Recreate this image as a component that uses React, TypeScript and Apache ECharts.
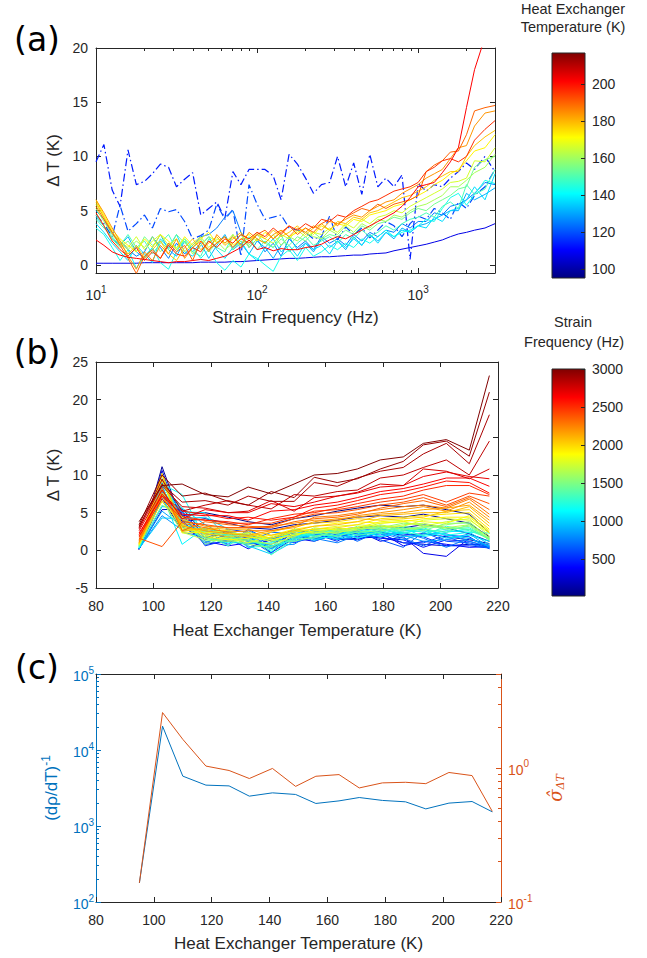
import React, { useEffect, useRef } from 'react';
import * as echarts from 'echarts';

// ---------------- data ----------------
const TEMPERATURES = [95, 103, 110, 118, 126, 133, 141, 149, 156, 164, 171, 179, 187, 194, 202, 210, 217];
const FREQUENCIES = [
  10, 11.2, 12.6, 14.1, 15.8, 17.8, 20, 22.4, 25.1, 28.2,
  31.6, 35.5, 39.8, 44.7, 50.1, 56.2, 63.1, 70.8, 79.4, 89.1,
  100, 112, 126, 141, 158, 178, 200, 224, 251, 282,
  316, 355, 398, 447, 501, 562, 631, 708, 794, 891,
  1000, 1122, 1259, 1413, 1585, 1778, 1995, 2239, 2600, 3000,
];
const DT_095 = [0.15,0.15,0.15,0.15,0.15,0.15,0.2,0.2,0.2,0.2, 0.2,0.2,0.2,0.25,0.25,0.25,0.25,0.3,0.3,0.35, 0.4,0.45,0.5,0.55,0.6,0.6,0.65,0.7,0.75,0.75, 0.8,0.85,0.9,0.9,1.0,1.05,1.1,1.3,1.45,1.6, 1.75,1.9,2.1,2.3,2.6,2.85,3.0,3.2,3.4,3.8];
const DT_103 = [9.5,11.1,6.9,5.4,10.6,7.4,7.7,8.4,9.3,9.0, 7.2,7.9,8.5,4.6,5.2,5.8,4.3,8.6,7.4,8.8, 8.8,8.8,8.2,6.0,10.2,9.3,8.0,6.6,7.4,7.6, 10.0,7.2,9.4,6.5,10.2,7.2,8.0,7.2,8.3,0.5, 7.5,6.8,7.4,7.2,8.0,8.6,9.4,8.8,10.0,8.6];
const DT_110 = [4.6,3.8,2.6,5.5,3.1,3.8,4.6,3.4,5.2,4.9, 5.1,4.0,2.4,2.7,3.2,5.6,4.2,5.1,0.8,7.4, 5.6,4.2,4.4,4.6,3.4,3.2,3.0,2.4,2.6,4.5, 2.3,3.5,2.8,3.4,2.5,3.2,4.0,3.6,2.6,3.8, 4.5,4.2,5.2,4.8,4.2,5.8,5.2,6.4,7.2,8.8];
const DT_118 = [5.0,4.2,2.8,2.2,1.4,0.8,1.2,2.6,1.6,0.6, 2.0,1.0,1.8,2.6,2.8,3.4,4.4,5.0,3.0,1.6, 2.4,1.2,2.0,0.8,2.4,1.6,2.2,1.4,2.6,2.0, 2.4,1.8,2.8,2.2,3.0,2.6,3.2,3.0,3.8,3.4, 4.0,4.0,4.8,4.6,5.4,5.6,6.0,6.6,7.6,7.4];
const DT_126 = [4.4,3.6,2.4,1.8,2.6,1.2,0.6,1.6,2.8,1.4, 0.8,2.2,1.2,2.0,0.6,1.8,2.8,1.4,2.0,1.0, 2.2,1.6,0.6,1.8,2.6,1.4,2.0,1.2,2.4,1.6, 2.2,1.4,2.6,1.8,2.8,2.2,3.0,2.4,3.4,3.0, 3.6,3.8,4.2,4.6,5.0,5.0,6.6,6.0,6.5,7.1];
const DT_133 = [3.8,3.0,2.0,1.2,0.4,1.8,1.0,0.2,2.4,1.6, 2.8,1.2,0.8,1.8,2.6,1.4,0.6,1.6,2.2,1.0, 0.4,1.6,2.4,1.2,1.8,0.8,2.0,1.4,1.8,1.0, 2.2,1.6,2.4,1.8,2.8,2.0,3.0,2.6,3.2,3.0, 3.6,3.4,4.4,4.0,5.0,5.2,6.0,7.2,6.0,8.4];
const DT_141 = [3.4,2.8,1.6,0.4,1.4,-0.3,0.8,1.6,0.2,-0.4, 1.2,2.4,1.6,0.6,1.4,0.2,-0.5,0.4,-0.2,1.0, 0.6,0.0,-0.6,0.8,1.4,0.4,1.6,0.8,1.2,1.8, 1.4,2.0,1.6,2.4,2.0,2.6,3.2,2.6,3.0,3.2, 3.6,4.2,4.0,5.2,6.2,6.6,5.5,6.5,7.8,7.5];
const DT_149 = [4.2,3.4,2.6,1.8,2.8,1.6,2.2,1.0,2.0,2.8, 1.4,2.2,1.2,0.8,2.4,1.6,1.2,2.8,1.8,2.6, 1.4,2.2,1.6,2.8,1.2,2.0,2.6,1.8,2.2,2.6, 2.0,2.8,2.4,3.2,2.6,3.0,3.6,3.2,3.8,4.2, 4.4,4.8,4.4,5.4,5.8,5.2,7.4,6.5,7.0,8.8];
const DT_156 = [4.6,3.6,2.4,1.6,2.2,1.2,2.6,1.8,2.2,1.4, 2.8,2.0,1.6,2.4,1.2,2.0,2.6,1.4,2.2,1.8, 2.8,2.0,1.6,2.4,1.8,2.6,2.2,3.0,2.4,2.8, 2.6,3.2,2.8,3.6,3.2,3.8,4.0,4.4,4.2,4.8, 5.2,5.0,5.6,6.0,6.4,7.0,7.2,9.0,9.7,10.0];
const DT_164 = [5.2,4.0,2.8,2.0,1.4,2.2,1.6,2.6,1.2,2.0, 1.6,2.4,1.0,1.8,2.6,2.2,1.4,2.0,2.8,1.6, 2.4,2.0,2.8,1.8,2.6,2.2,3.0,2.6,2.4,3.2, 2.8,3.6,3.0,3.8,3.4,4.2,4.0,4.6,4.4,5.0, 5.4,5.6,6.0,6.4,7.2,7.2,7.8,8.5,9.0,10.2];
const DT_171 = [5.6,4.4,3.0,2.2,1.6,2.6,1.4,2.2,2.8,1.8, 2.4,1.2,2.0,2.6,1.6,2.4,2.0,2.8,1.6,2.2, 3.0,2.4,2.0,2.8,2.4,3.2,2.6,3.0,2.8,3.4, 3.0,3.8,3.4,4.2,3.8,4.4,4.6,5.0,4.8,5.4, 5.8,6.2,6.6,7.0,7.6,7.7,8.0,9.6,9.5,10.8];
const DT_179 = [6.0,4.6,3.2,2.4,1.8,1.2,2.4,1.6,2.8,2.2, 1.4,2.6,1.8,2.4,3.0,2.0,2.6,1.8,2.4,2.8, 2.2,3.0,2.4,3.2,2.6,3.0,3.4,2.8,3.6,3.2, 3.8,3.6,4.2,4.0,4.6,4.8,5.0,5.4,5.6,6.0, 6.4,6.8,7.4,7.8,8.4,8.8,9.6,10.5,10.8,12.0];
const DT_187 = [5.8,4.4,3.0,2.0,1.0,1.8,0.6,1.4,2.2,1.0, 0.4,1.6,2.4,1.4,2.0,2.6,1.8,2.4,3.0,2.2, 2.8,2.4,3.2,2.6,3.0,3.6,2.8,3.4,3.8,3.2, 4.0,3.8,4.4,4.2,4.8,5.0,5.4,5.8,6.2,6.4, 6.8,7.2,7.8,8.2,8.6,8.6,10.0,11.0,11.8,12.4];
const DT_194 = [6.0,4.8,3.4,2.2,0.8,-0.4,1.2,0.4,1.8,1.0, 2.4,0.6,1.6,2.2,1.2,2.8,2.0,2.6,1.8,3.0, 2.4,2.0,2.8,3.2,2.6,3.4,3.0,3.6,3.2,4.0, 3.8,4.2,4.6,4.4,5.0,5.4,5.8,6.0,6.6,7.0, 7.4,8.0,8.4,8.8,9.8,10.8,11.0,12.8,14.0,14.2];
const DT_202 = [5.4,4.2,3.0,1.8,0.6,-0.8,0.8,1.4,0.6,2.0, 1.2,1.8,0.4,2.2,1.4,2.0,2.6,1.6,2.4,2.0, 2.8,3.2,2.4,3.0,3.6,2.8,3.4,3.0,3.8,4.2, 3.6,4.4,4.8,5.2,5.0,5.6,5.2,5.6,5.8,6.0, 6.4,8.6,9.2,9.6,10.4,10.5,12.0,14.2,14.5,14.7];
const DT_210 = [4.8,3.6,2.2,1.4,0.8,1.6,0.4,1.2,0.6,1.8, 1.0,0.8,1.6,1.2,2.2,1.6,2.4,2.0,2.8,2.4, 3.0,2.6,3.4,2.8,3.6,3.2,3.8,3.4,4.2,4.0, 4.6,4.4,5.0,5.4,5.8,6.0,6.4,6.8,7.0,7.2, 7.6,8.6,9.0,9.6,9.8,9.5,10.0,11.5,12.5,13.3];
const DT_217 = [2.3,1.8,1.2,0.9,0.7,0.6,0.5,0.4,0.3,0.2, 0.3,0.3,0.4,0.5,0.4,0.6,0.8,1.2,1.6,2.3, 1.4,1.6,1.3,1.5,1.4,1.4,1.6,1.7,1.9,2.3, 2.6,2.4,2.8,3.2,3.6,4.0,4.4,4.8,5.4,6.2, 7.2,7.4,7.6,8.5,9.5,10.8,14.5,18.0,21.0,23.2];
const DELTA_T = [DT_095, DT_103, DT_110, DT_118, DT_126, DT_133, DT_141, DT_149, DT_156, DT_164, DT_171, DT_179, DT_187, DT_194, DT_202, DT_210, DT_217];
const DASH_DOT_TEMPS = [103, 110];

const INV_DRHO_DT = [178, 20600, 4530, 3450, 3370, 2470, 2730, 2600, 1980, 2140, 2370, 2170, 2080, 1680, 2000, 2100, 1535];
const SIGMA_DT = [0.139, 2.58, 1.63, 1.03, 0.955, 0.832, 0.989, 0.727, 0.865, 0.89, 0.708, 0.772, 0.78, 0.762, 0.923, 0.875, 0.473];

const Y_TICKS_A = [0, 5, 10, 15, 20];
const CB_TEMP_TICKS = [100, 120, 140, 160, 180, 200];
const CB_FREQ_TICKS = [500, 1000, 1500, 2000, 2500, 3000];

// ---------------- style ----------------
const AX = '#262626';
const FONT = '"Liberation Sans", Arial, Helvetica, sans-serif';
const BLUE = '#0072BD';
const ORANGE = '#D95319';
const JET = ['#000080', '#0000ff', '#0080ff', '#00ffff', '#80ff80', '#ffff00', '#ff8000', '#ff0000', '#800000'];

const G_A = { left: 96, top: 48, width: 399, height: 225 };
const CB_A = { left: 552, top: 53, width: 33, height: 225 };
const G_B = { left: 96, top: 362, width: 402, height: 226 };
const CB_B = { left: 552, top: 369, width: 33, height: 227 };
const G_C = { left: 96, top: 674, width: 405, height: 228 };

const jetColor = (t: number) => echarts.color.lerp(Math.min(1, Math.max(0, t)), JET) as string;

const MINOR_MULTS = [2, 3, 4, 5, 6, 7, 8, 9];
function minorLogTicks(lo: number, hi: number) {
  const out: number[] = [];
  for (let k = Math.floor(Math.log10(lo)); k <= Math.ceil(Math.log10(hi)); k++) {
    for (const m of MINOR_MULTS) {
      const v = m * Math.pow(10, k);
      if (v > lo * 1.0001 && v < hi * 0.9999) out.push(Math.log10(v));
    }
  }
  return out;
}

const supFmt = (v: number) => {
  const l = Math.log10(v);
  const e = Math.round(l);
  if (Math.abs(l - e) > 1e-6) return '';
  return `{b|10}{s|${e}}`;
};
const supRich = (color: string) => ({
  b: { fontSize: 14, fontFamily: FONT, color, lineHeight: 18, verticalAlign: 'bottom' },
  s: { fontSize: 10, fontFamily: FONT, color, lineHeight: 8, verticalAlign: 'top' },
});
const plainFmt = (v: number) => String(v);

const aLine = (color: string, show = true) => ({ show, onZero: false, lineStyle: { color, width: 1 } });
const aTick = (color: string, length = 5, customValues?: number[]) => {
  const t: any = { show: true, inside: true, length, lineStyle: { color, width: 1 } };
  if (customValues) t.customValues = customValues;
  return t;
};
const aLabel = (color: string, margin: number, extra: any = {}) => ({ show: true, color, fontSize: 14, fontFamily: FONT, margin, ...extra });
const noLabel = { show: false };
const noSplit = { show: false };
const nameStyle = (color: string, extra: any = {}) => ({ color, fontSize: 17, fontFamily: FONT, ...extra });

export default function App() {
  const ref = useRef<HTMLDivElement>(null);

  useEffect(() => {
    if (!ref.current) return;
    const chart = echarts.init(ref.current, undefined, { renderer: 'svg' });

    const fMin = FREQUENCIES[0];
    const fMax = FREQUENCIES[FREQUENCIES.length - 1];
    const tMin = TEMPERATURES[0];
    const tMax = TEMPERATURES[TEMPERATURES.length - 1];

    const seriesA = TEMPERATURES.map((T, i) => ({
      type: 'line',
      name: `${T} K`,
      xAxisIndex: 0,
      yAxisIndex: 0,
      data: FREQUENCIES.map((f, j) => [f, DELTA_T[i][j]]),
      symbol: 'none',
      silent: true,
      clip: true,
      z: 2,
      lineStyle: {
        color: jetColor(0.1 + 0.775 * (T - tMin) / (tMax - tMin)),
        width: DASH_DOT_TEMPS.includes(T) ? 1.2 : 1,
        type: DASH_DOT_TEMPS.includes(T) ? [8, 3, 1.5, 3] : 'solid',
      },
    }));

    const seriesB = FREQUENCIES.map((f, j) => ({
      type: 'line',
      name: `${f} Hz`,
      xAxisIndex: 5,
      yAxisIndex: 3,
      data: TEMPERATURES.map((T, i) => [T, DELTA_T[i][j]]),
      symbol: 'none',
      silent: true,
      z: 2,
      lineStyle: { color: jetColor(j / (FREQUENCIES.length - 1)), width: 1 },
    }));

    const seriesC = [
      {
        type: 'line', name: 'inv', xAxisIndex: 8, yAxisIndex: 6,
        data: TEMPERATURES.map((T, i) => [T, INV_DRHO_DT[i]]),
        symbol: 'none', silent: true, z: 2,
        lineStyle: { color: BLUE, width: 1 },
      },
      {
        type: 'line', name: 'sigma', xAxisIndex: 8, yAxisIndex: 8,
        data: TEMPERATURES.map((T, i) => [T, SIGMA_DT[i]]),
        symbol: 'none', silent: true, z: 2,
        lineStyle: { color: ORANGE, width: 1 },
      },
    ];

    const jetGradient = () =>
      new echarts.graphic.LinearGradient(0, 1, 0, 0, JET.map((c, i) => ({ offset: i / (JET.length - 1), color: c })));

    const minorA = minorLogTicks(fMin, fMax);
    const minorCL = minorLogTicks(100, 100000);
    const minorCR = minorLogTicks(0.1, 5);

    const option: any = {
      animation: false,
      backgroundColor: '#ffffff',
      grid: [G_A, CB_A, G_B, CB_B, G_C].map((g) => ({ ...g, containLabel: false })),
      xAxis: [
        // 0: (a) bottom log
        {
          gridIndex: 0, type: 'log', logBase: 10, min: fMin, max: fMax, position: 'bottom',
          axisLine: aLine(AX), axisTick: aTick(AX),
          axisLabel: aLabel(AX, 11, { formatter: supFmt, rich: supRich(AX) }),
          splitLine: noSplit,
          name: 'Strain Frequency (Hz)', nameLocation: 'middle', nameGap: 36, nameTextStyle: nameStyle(AX),
        },
        // 1: (a) top log
        { gridIndex: 0, type: 'log', logBase: 10, min: fMin, max: fMax, position: 'top', axisLine: aLine(AX), axisTick: aTick(AX), axisLabel: noLabel, splitLine: noSplit },
        // 2: (a) bottom minor ticks (log10 space)
        { gridIndex: 0, type: 'value', min: Math.log10(fMin), max: Math.log10(fMax), position: 'bottom', axisLine: aLine(AX, false), axisTick: aTick(AX, 3, minorA), axisLabel: noLabel, splitLine: noSplit },
        // 3: (a) top minor ticks
        { gridIndex: 0, type: 'value', min: Math.log10(fMin), max: Math.log10(fMax), position: 'top', axisLine: aLine(AX, false), axisTick: aTick(AX, 3, minorA), axisLabel: noLabel, splitLine: noSplit },
        // 4: colorbar a (hidden)
        { gridIndex: 1, type: 'value', min: 0, max: 1, show: false },
        // 5: (b) bottom
        {
          gridIndex: 2, type: 'value', min: 80, max: 220, interval: 20, position: 'bottom',
          axisLine: aLine(AX), axisTick: aTick(AX), axisLabel: aLabel(AX, 11), splitLine: noSplit,
          name: 'Heat Exchanger Temperature (K)', nameLocation: 'middle', nameGap: 34, nameTextStyle: nameStyle(AX),
        },
        // 6: (b) top
        { gridIndex: 2, type: 'value', min: 80, max: 220, interval: 20, position: 'top', axisLine: aLine(AX), axisTick: aTick(AX), axisLabel: noLabel, splitLine: noSplit },
        // 7: colorbar b (hidden)
        { gridIndex: 3, type: 'value', min: 0, max: 1, show: false },
        // 8: (c) bottom
        {
          gridIndex: 4, type: 'value', min: 80, max: 220, interval: 20, position: 'bottom',
          axisLine: aLine(AX), axisTick: aTick(AX), axisLabel: aLabel(AX, 11), splitLine: noSplit,
          name: 'Heat Exchanger Temperature (K)', nameLocation: 'middle', nameGap: 33, nameTextStyle: nameStyle(AX),
        },
        // 9: (c) top
        { gridIndex: 4, type: 'value', min: 80, max: 220, interval: 20, position: 'top', axisLine: aLine(AX), axisTick: aTick(AX), axisLabel: noLabel, splitLine: noSplit },
      ],
      yAxis: [
        // 0: (a) left
        {
          gridIndex: 0, type: 'value', min: -0.75, max: 20, position: 'left',
          axisLine: aLine(AX), axisTick: aTick(AX, 5, Y_TICKS_A),
          axisLabel: aLabel(AX, 8, { customValues: Y_TICKS_A }), splitLine: noSplit,
          name: 'Δ T (K)', nameLocation: 'middle', nameRotate: 90, nameGap: 30, nameTextStyle: nameStyle(AX),
        },
        // 1: (a) right
        { gridIndex: 0, type: 'value', min: -0.75, max: 20, position: 'right', axisLine: aLine(AX), axisTick: aTick(AX, 5, Y_TICKS_A), axisLabel: noLabel, splitLine: noSplit },
        // 2: colorbar a
        {
          gridIndex: 1, type: 'value', min: tMin, max: tMax, position: 'right', z: 5,
          axisLine: aLine(AX, false), axisTick: aTick(AX, 4, CB_TEMP_TICKS),
          axisLabel: aLabel(AX, 7, { customValues: CB_TEMP_TICKS, formatter: plainFmt }), splitLine: noSplit,
        },
        // 3: (b) left
        {
          gridIndex: 2, type: 'value', min: -5, max: 25, interval: 5, position: 'left',
          axisLine: aLine(AX), axisTick: aTick(AX), axisLabel: aLabel(AX, 8), splitLine: noSplit,
          name: 'Δ T (K)', nameLocation: 'middle', nameRotate: 90, nameGap: 31, nameTextStyle: nameStyle(AX),
        },
        // 4: (b) right
        { gridIndex: 2, type: 'value', min: -5, max: 25, interval: 5, position: 'right', axisLine: aLine(AX), axisTick: aTick(AX), axisLabel: noLabel, splitLine: noSplit },
        // 5: colorbar b
        {
          gridIndex: 3, type: 'value', min: fMin, max: fMax, position: 'right', z: 5,
          axisLine: aLine(AX, false), axisTick: aTick(AX, 4, CB_FREQ_TICKS),
          axisLabel: aLabel(AX, 7, { customValues: CB_FREQ_TICKS, formatter: plainFmt }), splitLine: noSplit,
        },
        // 6: (c) left log
        {
          gridIndex: 4, type: 'log', logBase: 10, min: 100, max: 100000, position: 'left',
          axisLine: aLine(BLUE), axisTick: aTick(BLUE),
          axisLabel: aLabel(BLUE, 2, { formatter: supFmt, rich: supRich(BLUE) }), splitLine: noSplit,
          name: '{b|(dρ/dT)}{s|-1}', nameLocation: 'middle', nameRotate: 90, nameGap: 36,
          nameTextStyle: nameStyle(BLUE, {
            rich: {
              b: { fontSize: 17, fontFamily: FONT, color: BLUE, lineHeight: 20, verticalAlign: 'bottom' },
              s: { fontSize: 12, fontFamily: FONT, color: BLUE, lineHeight: 10, verticalAlign: 'top' },
            },
          }),
        },
        // 7: (c) left minor ticks
        { gridIndex: 4, type: 'value', min: 2, max: 5, position: 'left', axisLine: aLine(BLUE, false), axisTick: aTick(BLUE, 3, minorCL), axisLabel: noLabel, splitLine: noSplit },
        // 8: (c) right log
        {
          gridIndex: 4, type: 'log', logBase: 10, min: 0.1, max: 5, position: 'right',
          axisLine: aLine(ORANGE), axisTick: aTick(ORANGE),
          axisLabel: aLabel(ORANGE, 7, { formatter: supFmt, rich: supRich(ORANGE) }), splitLine: noSplit,
          name: '{sg|σ̂}{sub|ΔT}', nameLocation: 'middle', nameRotate: 90, nameGap: 45,
          nameTextStyle: nameStyle(ORANGE, {
            rich: {
              sg: { fontSize: 18, fontFamily: '"DejaVu Serif", serif', fontStyle: 'italic', color: ORANGE, lineHeight: 20, verticalAlign: 'top' },
              sub: { fontSize: 11, fontFamily: '"DejaVu Serif", serif', fontStyle: 'italic', color: ORANGE, lineHeight: 11, verticalAlign: 'bottom' },
            },
          }),
        },
        // 9: (c) right minor ticks
        { gridIndex: 4, type: 'value', min: -1, max: Math.log10(5), position: 'right', axisLine: aLine(ORANGE, false), axisTick: aTick(ORANGE, 3, minorCR), axisLabel: noLabel, splitLine: noSplit },
      ],
      series: [...seriesA, ...seriesB, ...seriesC],
      graphic: {
        elements: [
          { type: 'rect', z: 1, shape: { x: CB_A.left, y: CB_A.top, width: CB_A.width, height: CB_A.height }, style: { fill: jetGradient(), stroke: AX, lineWidth: 1 } },
          { type: 'rect', z: 1, shape: { x: CB_B.left, y: CB_B.top, width: CB_B.width, height: CB_B.height }, style: { fill: jetGradient(), stroke: AX, lineWidth: 1 } },
          { type: 'text', x: 37, y: 39, style: { text: '(a)', fontSize: 33, fontFamily: '"DejaVu Sans", sans-serif', fill: '#000', align: 'center', verticalAlign: 'middle' } },
          { type: 'text', x: 37, y: 352, style: { text: '(b)', fontSize: 33, fontFamily: '"DejaVu Sans", sans-serif', fill: '#000', align: 'center', verticalAlign: 'middle' } },
          { type: 'text', x: 37, y: 667, style: { text: '(c)', fontSize: 33, fontFamily: '"DejaVu Sans", sans-serif', fill: '#000', align: 'center', verticalAlign: 'middle' } },
          { type: 'text', x: 573, y: 9, style: { text: 'Heat Exchanger', fontSize: 14.5, fontFamily: FONT, fill: AX, align: 'center', verticalAlign: 'middle' } },
          { type: 'text', x: 573, y: 27, style: { text: 'Temperature (K)', fontSize: 14.5, fontFamily: FONT, fill: AX, align: 'center', verticalAlign: 'middle' } },
          { type: 'text', x: 573, y: 322, style: { text: 'Strain', fontSize: 14.5, fontFamily: FONT, fill: AX, align: 'center', verticalAlign: 'middle' } },
          { type: 'text', x: 574, y: 342, style: { text: 'Frequency (Hz)', fontSize: 14.5, fontFamily: FONT, fill: AX, align: 'center', verticalAlign: 'middle' } },
        ],
      },
    };

    chart.setOption(option);
    return () => chart.dispose();
  }, []);

  return (
    <div
      ref={ref}
      style={{ position: 'absolute', left: 0, top: 0, width: 647, height: 958, background: '#fff' }}
    />
  );
}
